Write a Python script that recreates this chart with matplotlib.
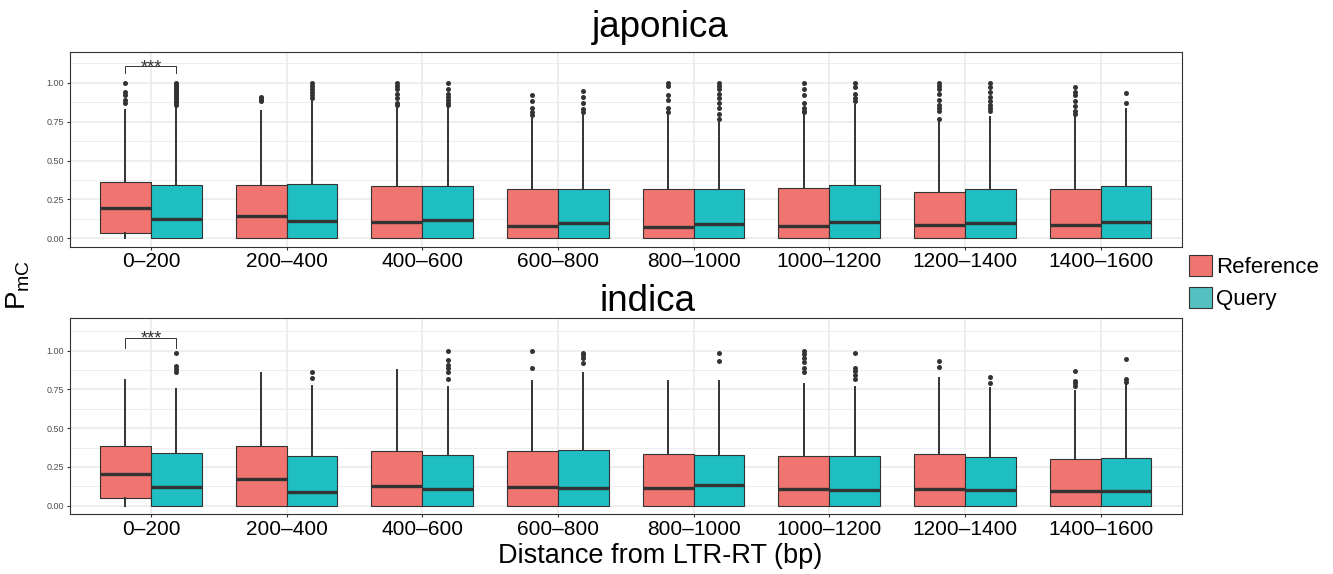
import numpy as np
import matplotlib
matplotlib.use('Agg')
import matplotlib.pyplot as plt
from matplotlib.patches import Patch

plt.rcParams['font.family'] = ['Liberation Sans', 'DejaVu Sans']
plt.rcParams['mathtext.default'] = 'regular'

categories = ['0–200', '200–400', '400–600', '600–800',
              '800–1000', '1000–1200', '1200–1400', '1400–1600']

# japonica, Reference
jap_ref_q1 = [0.037, 0, 0, 0, 0, 0, 0, 0]
jap_ref_med = [0.198, 0.142, 0.105, 0.082, 0.075, 0.082, 0.088, 0.088]
jap_ref_q3 = [0.36, 0.34, 0.337, 0.316, 0.314, 0.323, 0.299, 0.314]
jap_ref_hi = [0.826, 0.82, 0.84, 0.768, 0.794, 0.794, 0.75, 0.794]
jap_ref_out = [[1.0, 0.94, 0.92, 0.89, 0.87],
               [0.91, 0.90, 0.89, 0.88],
               [1.0, 0.98, 0.96, 0.93, 0.90, 0.87, 0.86],
               [0.92, 0.88, 0.84, 0.81, 0.79],
               [1.0, 0.98, 0.92, 0.89, 0.84, 0.81],
               [1.0, 0.96, 0.92, 0.87, 0.84, 0.82, 0.81],
               [1.0, 0.98, 0.96, 0.93, 0.89, 0.86, 0.84, 0.82, 0.77],
               [0.97, 0.94, 0.92, 0.88, 0.85, 0.82, 0.80]]

# japonica, Query
jap_qry_q1 = [0, 0, 0, 0, 0, 0, 0, 0]
jap_qry_med = [0.123, 0.114, 0.12, 0.101, 0.095, 0.108, 0.101, 0.108]
jap_qry_q3 = [0.342, 0.35, 0.337, 0.316, 0.314, 0.344, 0.316, 0.337]
jap_qry_hi = [0.847, 0.88, 0.84, 0.794, 0.75, 0.858, 0.78, 0.83]
jap_qry_out = [[1.0, 0.99, 0.98, 0.97, 0.96, 0.95, 0.94, 0.93, 0.92, 0.91, 0.90, 0.89, 0.88, 0.87, 0.86],
               [1.0, 0.98, 0.96, 0.94, 0.92, 0.90],
               [1.0, 0.96, 0.93, 0.91, 0.89, 0.87, 0.86],
               [0.95, 0.91, 0.87, 0.83, 0.81],
               [1.0, 0.98, 0.96, 0.93, 0.90, 0.87, 0.84, 0.80, 0.77],
               [1.0, 0.97, 0.93, 0.90, 0.88],
               [1.0, 0.97, 0.94, 0.91, 0.88, 0.86, 0.84, 0.82],
               [0.933, 0.869]]

# indica, Reference
ind_ref_q1 = [0.05, 0, 0, 0, 0, 0, 0, 0]
ind_ref_med = [0.204, 0.172, 0.129, 0.12, 0.114, 0.108, 0.108, 0.095]
ind_ref_q3 = [0.383, 0.383, 0.355, 0.35, 0.333, 0.318, 0.331, 0.301]
ind_ref_hi = [0.81, 0.856, 0.875, 0.806, 0.806, 0.787, 0.824, 0.738]
ind_ref_out = [[], [], [],
               [1.0, 0.886],
               [],
               [1.0, 0.98, 0.95, 0.93, 0.89, 0.86],
               [0.931, 0.895],
               [0.871, 0.806, 0.79, 0.77]]

# indica, Query
ind_qry_q1 = [0, 0, 0, 0, 0, 0, 0, 0]
ind_qry_med = [0.12, 0.088, 0.108, 0.114, 0.133, 0.101, 0.101, 0.095]
ind_qry_q3 = [0.34, 0.318, 0.325, 0.359, 0.325, 0.318, 0.312, 0.31]
ind_qry_hi = [0.753, 0.77, 0.765, 0.856, 0.806, 0.765, 0.759, 0.781]
ind_qry_out = [[0.985, 0.90, 0.88, 0.86],
               [0.865, 0.824],
               [1.0, 0.94, 0.91, 0.89, 0.86, 0.82],
               [0.985, 0.97, 0.955, 0.92],
               [0.985, 0.935],
               [0.985, 0.89, 0.87, 0.84, 0.82],
               [0.832, 0.794],
               [0.948, 0.817, 0.80]]

RED = '#F07470'
TEAL = '#1FBEC2'
DARK = '#333333'


def make_stats(q1, med, q3, hi, out):
    return [dict(med=m, q1=a, q3=b, whislo=0.0, whishi=h, fliers=np.array(o))
            for a, m, b, h, o in zip(q1, med, q3, hi, out)]


def draw_panel(ax, ref, qry, ylim, bracket_y):
    x = np.arange(1, len(categories) + 1)
    for stats, off, color in [(ref, -0.1875, RED), (qry, 0.1875, TEAL)]:
        ax.bxp(stats, positions=x + off, widths=0.375, patch_artist=True,
               showcaps=False, manage_ticks=False,
               boxprops=dict(facecolor=color, edgecolor=DARK, linewidth=0.8),
               medianprops=dict(color=DARK, linewidth=2.4, solid_capstyle='butt'),
               whiskerprops=dict(color=DARK, linewidth=1.4),
               flierprops=dict(marker='o', markersize=3.6, markerfacecolor=DARK,
                               markeredgecolor='none'))
    ax.set_xlim(0.4, 8.6)
    ax.set_ylim(*ylim)
    ax.set_xticks(x)
    ax.set_xticklabels(categories, fontsize=15)
    ax.set_yticks([0, 0.25, 0.5, 0.75, 1.0])
    ax.set_yticklabels(['0.00', '0.25', '0.50', '0.75', '1.00'], fontsize=6.5)
    ax.set_yticks([0.125, 0.375, 0.625, 0.875, 1.125], minor=True)
    ax.grid(which='major', color='#EBEBEB', linewidth=1.2)
    ax.grid(which='minor', axis='y', color='#EBEBEB', linewidth=0.6)
    ax.set_axisbelow(True)
    for s in ax.spines.values():
        s.set_color(DARK)
        s.set_linewidth(0.8)
    ax.tick_params(which='major', length=2.5, width=0.8, color=DARK)
    ax.tick_params(which='minor', length=0)
    ax.tick_params(axis='y', labelcolor='#4D4D4D', pad=1.5)
    ax.tick_params(axis='x', labelcolor='black', pad=1.5)

    # significance bracket for the first group
    x1, x2 = 1 - 0.1875, 1 + 0.1875
    top, foot = bracket_y
    ax.plot([x1, x1, x2, x2], [foot, top, top, foot], color=DARK, linewidth=0.7)
    ax.annotate('***', xy=(1, top), xytext=(0, -4), textcoords='offset points',
                ha='center', va='baseline', fontsize=13, color=DARK)


fig = plt.figure(figsize=(13.33, 5.74), dpi=100)
W, H = 1333, 574
left = 69.5 / W
width = (1182 - 69.5) / W
ax1 = fig.add_axes([left, 1 - 246.7 / H, width, (246.7 - 51.7) / H])
ax2 = fig.add_axes([left, 1 - 514 / H, width, (514 - 318.3) / H])

draw_panel(ax1, make_stats(jap_ref_q1, jap_ref_med, jap_ref_q3, jap_ref_hi, jap_ref_out),
           make_stats(jap_qry_q1, jap_qry_med, jap_qry_q3, jap_qry_hi, jap_qry_out),
           (-0.054, 1.2), (1.105, 1.06))
draw_panel(ax2, make_stats(ind_ref_q1, ind_ref_med, ind_ref_q3, ind_ref_hi, ind_ref_out),
           make_stats(ind_qry_q1, ind_qry_med, ind_qry_q3, ind_qry_hi, ind_qry_out),
           (-0.054, 1.209), (1.08, 1.02))

fig.text(660 / W, 1 - 37 / H, 'japonica', ha='center', va='baseline', fontsize=26.5)
fig.text(648 / W, 1 - 311 / H, 'indica', ha='center', va='baseline', fontsize=26.5)
fig.text(660 / W, 1 - 563 / H, 'Distance from LTR-RT (bp)', ha='center', va='baseline',
         fontsize=19.5)
fig.text(18 / W, 1 - 285 / H, r'P$_{mC}$', rotation=90, ha='center', va='center', fontsize=20)

handles = [Patch(facecolor=RED, edgecolor=DARK, linewidth=0.8, label='Reference'),
           Patch(facecolor='#53C1C0', edgecolor=DARK, linewidth=0.8, label='Query')]
fig.legend(handles=handles, loc='upper left', bbox_to_anchor=(1189 / W, 1 - 255 / H),
           frameon=False, fontsize=16, handlelength=1.05, handleheight=1.05,
           handletextpad=0.15, labelspacing=0.42, borderpad=0, borderaxespad=0)

fig.savefig('out.png', dpi=100)
